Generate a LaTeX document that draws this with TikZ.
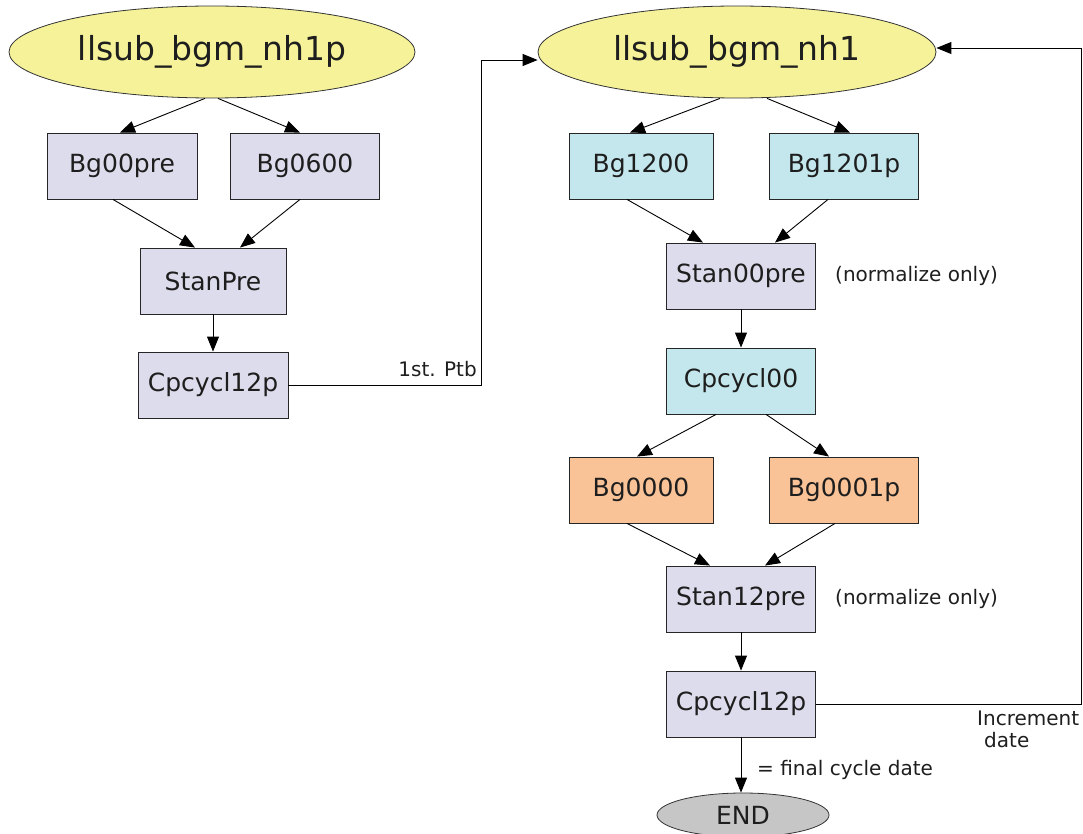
\documentclass[tikz,border=0pt]{standalone}
\usepackage{fontspec}
\setmainfont{DejaVu Sans}
\usetikzlibrary{shapes.geometric,arrows.meta,calc}
\definecolor{ellfill}{HTML}{F5F299}
\definecolor{lavfill}{HTML}{DCDCEC}
\definecolor{cyanfill}{HTML}{C3E7EC}
\definecolor{orfill}{HTML}{F9C397}
\definecolor{endfill}{HTML}{C6C6C6}
\definecolor{txt}{HTML}{1E1E1E}
\tikzset{
  startell/.style={ellipse, draw=black!80, fill=ellfill, line width=0.8pt, minimum width=406pt, minimum height=92pt, inner sep=0pt, text=txt, font=\fontsize{33}{38}\selectfont},
  box/.style={rectangle, draw=black!85, line width=0.9pt, minimum width=149pt, minimum height=66pt, inner sep=0pt, text=txt, font=\fontsize{25}{29}\selectfont},
  lav/.style={box, fill=lavfill},
  cya/.style={box, fill=cyanfill},
  ora/.style={box, fill=orfill},
  endell/.style={ellipse, draw=black!80, fill=endfill, line width=0.8pt, minimum width=172pt, minimum height=44pt, inner sep=0pt, text=txt, font=\fontsize{25}{29}\selectfont},
  lbl/.style={text=txt, font=\fontsize{20}{24}\selectfont, inner sep=0pt},
  arr/.style={draw=black, line width=0.9pt, -{Triangle[length=15pt,width=12pt]}},
}
\begin{document}
\begin{tikzpicture}[x=1pt,y=-1pt]
\useasboundingbox (0,0) rectangle (1083,834);
% left column
\node[startell] (e1) at (212,52) {llsub\_bgm\_nh1p};
\node[lav, minimum width=150pt] (bg00pre) at (122,166) {Bg00pre};
\node[lav, minimum width=149pt] (bg0600) at (305,166) {Bg0600};
\node[lav, minimum width=146pt] (stanpre) at (213,281) {StanPre};
\node[lav, minimum width=150pt] (cpl) at (213,385) {Cpcycl12p};
% right column
\node[startell, minimum width=398pt] (e2) at (737,52) {llsub\_bgm\_nh1};
\node[cya, minimum width=144pt] (bg1200) at (641,166) {Bg1200};
\node[cya, minimum width=149pt] (bg1201p) at (844,166) {Bg1201p};
\node[lav] (stan00) at (741,276) {Stan00pre};
\node[cya] (cp00) at (741,381) {Cpcycl00};
\node[ora, minimum width=144pt] (bg0000) at (641,490) {Bg0000};
\node[ora, minimum width=149pt] (bg0001p) at (844,490) {Bg0001p};
\node[lav] (stan12) at (741,599) {Stan12pre};
\node[lav] (cpr) at (741,704) {Cpcycl12p};
\node[endell] (endn) at (743,815) {END};
% labels
\node[lbl, anchor=west] (n1) at (835,276) {(normalize only)};
\node[lbl, anchor=west] (n2) at (835,599) {(normalize only)};
\node[lbl, anchor=south east] (ptb) at (477,377) {1st. Ptb};
\node[lbl, anchor=north west, align=left] (inc) at (977,711) {Increment\\[-2pt]\hspace*{7pt}date};
\node[lbl, anchor=west] (fin) at (757,770) {= final cycle date};
% coordinates for routed connectors
\coordinate (ptbc) at (481,60);
\coordinate (loopc) at (1081,48);
% edges left
\draw[arr] ([xshift=-7pt]e1.south) -- ([xshift=-2pt]bg00pre.north);
\draw[arr] ([xshift=6pt]e1.south) -- ([xshift=-5pt]bg0600.north);
\draw[arr] ([xshift=-9pt]bg00pre.south) -- ([xshift=-18pt]stanpre.north);
\draw[arr] ([xshift=-5pt]bg0600.south) -- ([xshift=27pt]stanpre.north);
\draw[arr] (stanpre.south) -- (cpl.north);
\draw[arr] (cpl.east) -| (ptbc) -- ([yshift=-8pt]e2.west);
% edges right
\draw[arr] ([xshift=-17pt]e2.south) -- ([xshift=-11pt]bg1200.north);
\draw[arr] ([xshift=30pt]e2.south) -- ([xshift=6pt]bg1201p.north);
\draw[arr] ([xshift=-14pt]bg1200.south) -- ([xshift=-38pt]stan00.north);
\draw[arr] ([xshift=-16pt]bg1201p.south) -- ([xshift=34pt]stan00.north);
\draw[arr] (stan00.south) -- (cp00.north);
\draw[arr] ([xshift=-25pt]cp00.south) -- ([xshift=-4pt]bg0000.north);
\draw[arr] ([xshift=25pt]cp00.south) -- ([xshift=-15pt]bg0001p.north);
\draw[arr] ([xshift=-14pt]bg0000.south) -- ([xshift=-31pt]stan12.north);
\draw[arr] ([xshift=-9pt]bg0001p.south) -- ([xshift=24pt]stan12.north);
\draw[arr] (stan12.south) -- (cpr.north);
\draw[arr] (cpr.south) -- ([xshift=-2pt]endn.north);
\draw[arr] (cpr.east) -| (loopc) -- ([yshift=4pt]e2.east);
\end{tikzpicture}
\end{document}
